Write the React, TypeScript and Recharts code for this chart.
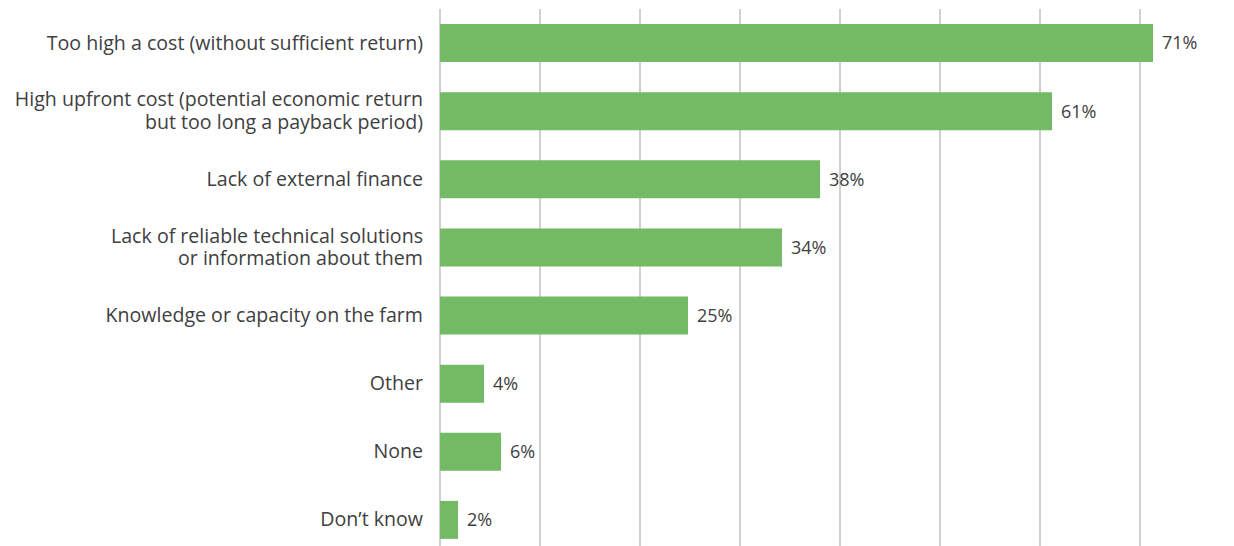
import React from "react";
import { BarChart, Bar, XAxis, YAxis, CartesianGrid, LabelList } from "recharts";

const categories: string[] = [
  "Too high a cost (without sufficient return)",
  "High upfront cost (potential economic return\nbut too long a payback period)",
  "Lack of external finance",
  "Lack of reliable technical solutions\nor information about them",
  "Knowledge or capacity on the farm",
  "Other",
  "None",
  "Don\u2019t know",
];
const values: number[] = [71.3, 61.2, 38.0, 34.2, 24.8, 4.4, 6.1, 1.8];
const xTicks: number[] = [0, 10, 20, 30, 40, 50, 60, 70, 80];

const data = categories.map((c, i) => ({ name: c, value: values[i] }));

const FONT = "'Open Sans', 'Noto Sans', sans-serif";

const CategoryTick = (props: any) => {
  const { x, y, payload } = props;
  const lines = String(payload.value).split("\n");
  const lh = 22.5;
  const start = -((lines.length - 1) * lh) / 2;
  return (
    <text x={x} y={y} textAnchor="end" fill="#404040" fontSize={19.6} fontFamily={FONT}>
      {lines.map((l, i) => (
        <tspan key={i} x={x} dy={i === 0 ? start + 6.5 : lh}>
          {l}
        </tspan>
      ))}
    </text>
  );
};

export default function App() {
  return (
    <div style={{ position: "absolute", left: 0, top: 0, width: 1234, height: 546, overflow: "hidden", background: "#fff" }}>
      <BarChart
        width={1240}
        height={560}
        data={data}
        layout="vertical"
        margin={{ top: 9, right: 0, bottom: 6, left: 0 }}
        barCategoryGap={0}
      >
        <CartesianGrid horizontal={false} vertical={true} stroke="#c0c0c0" strokeWidth={1.5} />
        <XAxis type="number" domain={[0, 80]} ticks={xTicks} hide />
        <YAxis
          type="category"
          dataKey="name"
          width={440}
          axisLine={false}
          tickLine={false}
          tickSize={0}
          tickMargin={17}
          interval={0}
          tick={<CategoryTick />}
        />
        <Bar dataKey="value" fill="#72ba63" barSize={38} isAnimationActive={false}>
          <LabelList
            dataKey="value"
            position="right"
            offset={9}
            formatter={(v: any) => `${Math.round(Number(v))}%`}
            fill="#404040"
            fontSize={18}
            fontFamily={FONT}
          />
        </Bar>
      </BarChart>
    </div>
  );
}
